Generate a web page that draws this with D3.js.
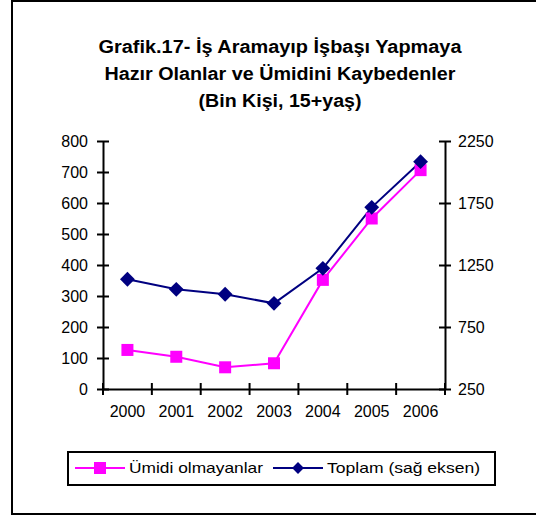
<!DOCTYPE html>
<html>
<head>
<meta charset="utf-8">
<script src="https://cdn.jsdelivr.net/npm/d3@7"></script>
<style>
  body { margin: 0; background: #fff; }
  text { font-family: "Liberation Sans", Arial, sans-serif; fill: #000; }
</style>
</head>
<body>
<svg id="chart" width="536" height="517"></svg>
<script>
var years = ["2000", "2001", "2002", "2003", "2004", "2005", "2006"];
var umidi = [126, 104, 70, 83, 352, 550, 706];        // left axis
var toplam = [1135, 1054, 1014, 941, 1223, 1715, 2083]; // right axis
var leftTicks = [0, 100, 200, 300, 400, 500, 600, 700, 800];
var rightTicks = [250, 750, 1250, 1750, 2250];
var titleLines = ["Grafik.17- İş Aramayıp İşbaşı Yapmaya", "Hazır Olanlar ve Ümidini Kaybedenler", "(Bin Kişi, 15+yaş)"];
var titleWidths = [363, 351, 163];

var svg = d3.select("#chart");

// outer frame
svg.append("rect")
  .attr("x", 12).attr("y", 1)
  .attr("width", 530).attr("height", 513)
  .attr("fill", "none")
  .attr("stroke", "#000")
  .attr("stroke-width", 2);

svg.selectAll(".title")
  .data(titleLines)
  .enter().append("text")
  .attr("class", "title")
  .attr("x", 280)
  .attr("y", function(d, i) { return 53 + i * 27; })
  .attr("text-anchor", "middle")
  .attr("textLength", function(d, i) { return titleWidths[i]; })
  .attr("lengthAdjust", "spacingAndGlyphs")
  .style("font-size", "18px")
  .style("font-weight", "bold")
  .text(function(d) { return d; });

var mLeft = 103, mRight = 445, mTop = 141, mBottom = 389;

var x = d3.scaleBand().domain(years).range([mLeft, mRight]);
var yL = d3.scaleLinear().domain([0, 800]).range([mBottom, mTop]);
var yR = d3.scaleLinear().domain([250, 2250]).range([mBottom, mTop]);

// x axis
var gx = svg.append("g")
  .attr("transform", "translate(0," + mBottom + ")")
  .call(d3.axisBottom(x).tickSize(0).tickPadding(17));
gx.select(".domain").attr("stroke", "#000").attr("stroke-width", 2);
gx.selectAll("text").style("font-size", "16px").attr("font-family", null);

// crossing ticks on x axis, at band boundaries
var xb = years.map(function(d) { return x(d); }).concat([mRight]);
svg.selectAll(".xtick")
  .data(xb)
  .enter().append("line")
  .attr("x1", function(d) { return d; })
  .attr("x2", function(d) { return d; })
  .attr("y1", mBottom - 6)
  .attr("y2", mBottom + 6)
  .attr("stroke", "#000")
  .attr("stroke-width", 2);

// left axis
var gl = svg.append("g")
  .attr("transform", "translate(" + mLeft + ",0)")
  .call(d3.axisLeft(yL).tickValues(leftTicks).tickSize(6).tickSizeOuter(0).tickPadding(9));
gl.selectAll("line").attr("x2", -6).attr("x1", 6).attr("stroke-width", 2);
gl.select(".domain").attr("stroke-width", 2);
gl.selectAll("text").style("font-size", "16px").attr("font-family", null);

// right axis
var gr = svg.append("g")
  .attr("transform", "translate(" + mRight + ",0)")
  .call(d3.axisRight(yR).tickValues(rightTicks).tickFormat(d3.format("d")).tickSize(6).tickSizeOuter(0).tickPadding(7));
gr.selectAll("line").attr("x2", 6).attr("x1", -6).attr("stroke-width", 2);
gr.select(".domain").attr("stroke-width", 2);
gr.selectAll("text").style("font-size", "16px").attr("font-family", null);

var cx = function(i) { return x(years[i]) + x.bandwidth() / 2; };

// Toplam line (right axis)
svg.append("path")
  .datum(toplam)
  .attr("fill", "none")
  .attr("stroke", "#000080")
  .attr("stroke-width", 2)
  .attr("d", d3.line().x(function(d, i) { return cx(i); }).y(function(d) { return yR(d); }));

// Umidi line (left axis)
svg.append("path")
  .datum(umidi)
  .attr("fill", "none")
  .attr("stroke", "#ff00ff")
  .attr("stroke-width", 2)
  .attr("d", d3.line().x(function(d, i) { return cx(i); }).y(function(d) { return yL(d); }));

svg.selectAll(".sq")
  .data(umidi)
  .enter().append("rect")
  .attr("x", function(d, i) { return cx(i) - 6; })
  .attr("y", function(d) { return yL(d) - 6; })
  .attr("width", 12).attr("height", 12)
  .attr("fill", "#ff00ff");

var diamond = d3.symbol().type(d3.symbolSquare).size(110);
svg.selectAll(".dm")
  .data(toplam)
  .enter().append("path")
  .attr("d", diamond)
  .attr("transform", function(d, i) { return "translate(" + cx(i) + "," + yR(d) + ") rotate(45)"; })
  .attr("fill", "#000080");

// legend
svg.append("rect")
  .attr("x", 68).attr("y", 452)
  .attr("width", 427).attr("height", 33)
  .attr("fill", "none")
  .attr("stroke", "#000")
  .attr("stroke-width", 2);

var ly = 468;
svg.append("line").attr("x1", 75).attr("x2", 125).attr("y1", ly).attr("y2", ly)
  .attr("stroke", "#ff00ff").attr("stroke-width", 2);
svg.append("rect").attr("x", 94).attr("y", ly - 6).attr("width", 12).attr("height", 12)
  .attr("fill", "#ff00ff");
svg.append("text").attr("x", 129).attr("y", ly + 5)
  .attr("textLength", 134).attr("lengthAdjust", "spacingAndGlyphs")
  .style("font-size", "15px").text("Ümidi olmayanlar");

svg.append("line").attr("x1", 273).attr("x2", 323).attr("y1", ly).attr("y2", ly)
  .attr("stroke", "#000080").attr("stroke-width", 2);
svg.append("path").attr("d", d3.symbol().type(d3.symbolSquare).size(70))
  .attr("transform", "translate(298," + ly + ") rotate(45)")
  .attr("fill", "#000080");
svg.append("text").attr("x", 327).attr("y", ly + 5)
  .attr("textLength", 153).attr("lengthAdjust", "spacingAndGlyphs")
  .style("font-size", "15px").text("Toplam (sağ eksen)");
</script>
</body>
</html>
